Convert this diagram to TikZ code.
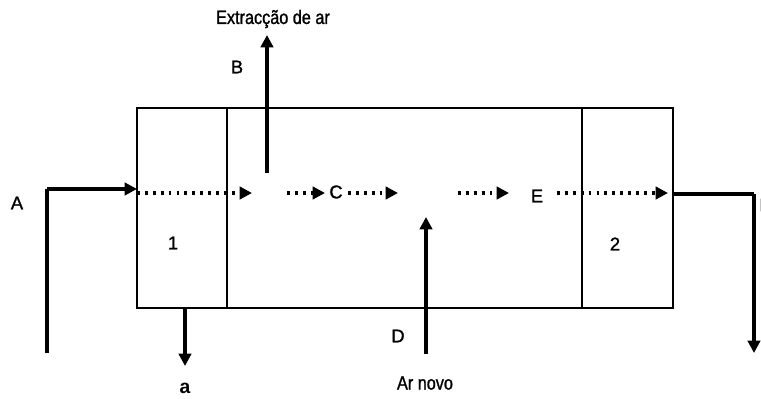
\documentclass[tikz,border=0pt]{standalone}
\usepackage{fontspec}
\setmainfont{Liberation Sans}
\newfontfamily\narrowfont[FakeStretch=0.84,FakeBold=1.2]{Liberation Sans}
\newfontfamily\labelfont[FakeBold=1.3]{Liberation Sans}
\newfontfamily\boldsans{Liberation Sans Bold}
\usetikzlibrary{arrows.meta}
\begin{document}
\begin{tikzpicture}[x=0.02cm,y=-0.02cm,
  wall/.style={line width=1.4pt},
  flow/.style={line width=1.8pt,-{Triangle[length=7pt,width=7pt]}},
  pipe/.style={line width=1.8pt},
  dotflow/.style={line width=1.8pt,dash pattern=on 1.6pt off 2.9pt,-{Triangle[length=7pt,width=7pt]}},
  lbl/.style={inner sep=0pt,font=\labelfont\fontsize{10.5}{12}\selectfont},
  captxt/.style={inner sep=0pt,font=\narrowfont\fontsize{11}{13}\selectfont}]
\useasboundingbox (0,0) rectangle (761,399);

% chamber and its two end sections
\draw[wall] (137,108) rectangle (673,308);
\draw[wall] (227,108) -- (227,308);
\draw[wall] (582,108) -- (582,308);

% named points of the flow lines
\coordinate (a0) at (47,353);
\coordinate (a1) at (47,189);
\coordinate (a2) at (137,189);
\coordinate (d1) at (137,193);
\coordinate (d2) at (252,193);
\coordinate (d3) at (287,193);
\coordinate (d4) at (325,193);
\coordinate (d5) at (348,193);
\coordinate (d6) at (398,193);
\coordinate (d7) at (458,193);
\coordinate (d8) at (509,193);
\coordinate (d9) at (557,193);
\coordinate (d10) at (668,193);
\coordinate (f0) at (673,194);
\coordinate (f1) at (754,194);
\coordinate (f2) at (754,353);
\coordinate (b0) at (267,173);
\coordinate (b1) at (267,35);
\coordinate (e0) at (426,354);
\coordinate (e1) at (426,217);
\coordinate (s0) at (185,308);
\coordinate (s1) at (185,366);

% inlet A
\draw[pipe] (a0) -- (a1);
\draw[flow] (a1) -- (a2);

% dotted air path through the chamber
\draw[dotflow] (d1) -- (d2);
\draw[dotflow] (d3) -- (d4);
\draw[dotflow] (d5) -- (d6);
\draw[dotflow] (d7) -- (d8);
\draw[dotflow] (d9) -- (d10);

% outlet on the right
\draw[pipe] (f0) -- (f1);
\draw[flow] (f1) -- (f2);

% air extraction and fresh air
\draw[flow] (b0) -- (b1);
\draw[flow] (e0) -- (e1);

% drain of section 1
\draw[flow] (s0) -- (s1);

% labels
\node[captxt] (ext) at (273,19) {Extracção de ar};
\node[captxt] (novo) at (425,383) {Ar novo};
\node[lbl] (lA) at (17,203) {A};
\node[lbl] (lB) at (237,67) {B};
\node[lbl] (lC) at (336,192) {C};
\node[lbl] (lD) at (398,336) {D};
\node[lbl] (lE) at (537,196) {E};
\node[lbl] (lF) at (765,205) {F};
\node[lbl] (l1) at (173,243) {1};
\node[lbl] (l2) at (615,244) {2};
\node[inner sep=0pt,font=\boldsans\fontsize{11}{13}\selectfont] (la) at (185,388) {a};
\end{tikzpicture}
\end{document}
